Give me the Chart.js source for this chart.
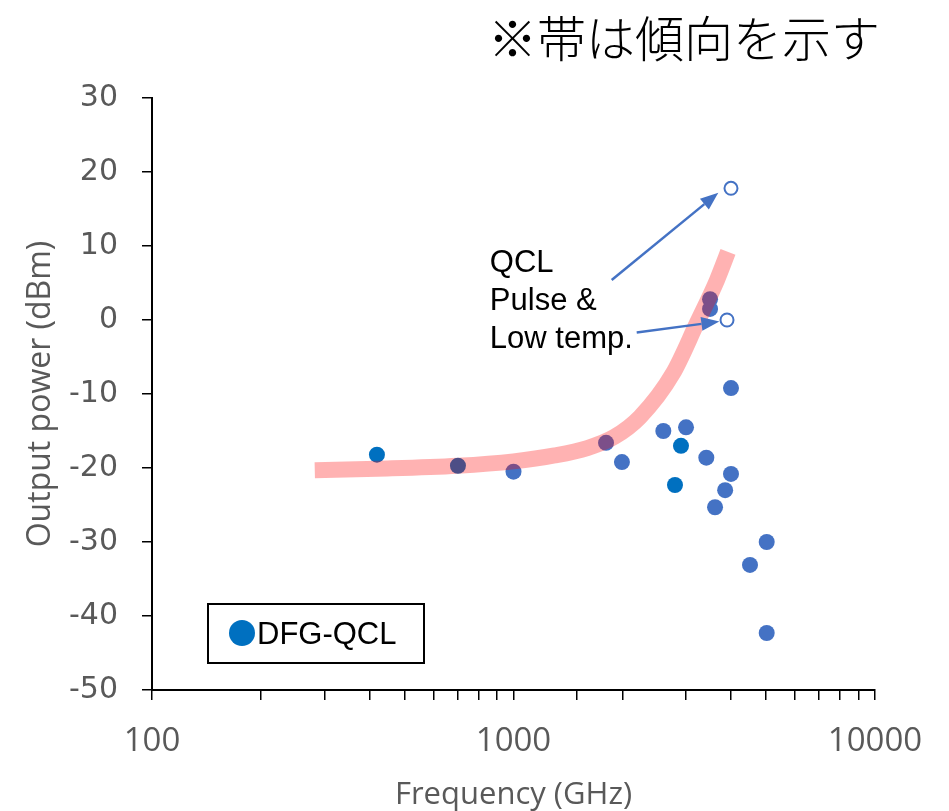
<!DOCTYPE html>
<html>
<head>
<meta charset="utf-8">
<script src="https://cdn.jsdelivr.net/npm/chart.js@4/dist/chart.umd.min.js"></script>
<style>
  body { margin: 0; background: #fff; }
  #wrap { width: 949px; height: 811px; }
</style>
</head>
<body>
<div id="wrap"><canvas id="grafico" width="949" height="811"></canvas></div>
<script>
// dados
const freqEscuro = [419, 702, 2797, 2906];
const potEscuro = [-18.2, -19.7, -22.3, -17.0];

const freqClaro = [1000, 1803, 1995, 2597, 3001, 3415, 3497, 3497, 3610, 3850, 3996, 3996, 4510, 5017, 5017];
const potClaro = [-20.5, -16.6, -19.2, -15.0, -14.5, -18.6, 2.8, 1.5, -25.3, -23.0, -9.2, -20.8, -33.1, -30.0, -42.3];

const freqAberto = [3996, 3896];
const potAberto = [17.8, 0];

// faixa de tendencia
const freqFaixa = [282, 420, 700, 1000, 1300, 1600, 1900, 2239, 2762, 3218, 3656, 3921];
const potFaixa = [-20.3, -20.1, -19.7, -19.1, -18.3, -17.3, -15.8, -13.1, -7.2, -0.4, 5.4, 9.2];

// setas: [freq inicio, pot inicio, freq fim, pot fim]
const setas = [
  [1869, 5.4, 3686, 17.2],
  [2192, -1.7, 3710, -0.2]
];

const textoNota = ['QCL', 'Pulse &', 'Low temp.'];
const notaPos = [860, 6.5];
const titulo = '※帯は傾向を示す';
const legenda = 'DFG-QCL';

const ticksY = [-50, -40, -30, -20, -10, 0, 10, 20, 30];
const ticksXLabel = [100, 1000, 10000];

const junta = (xs, ys) => xs.map((x, i) => ({ x: x, y: ys[i] }));

const extras = {
  id: 'extras',
  afterDatasetsDraw(chart) {
    const ctx = chart.ctx;
    const sx = chart.scales.x;
    const sy = chart.scales.y;
    const area = chart.chartArea;
    ctx.save();

    // setas
    ctx.strokeStyle = '#4472C4';
    ctx.fillStyle = '#4472C4';
    ctx.lineWidth = 2.5;
    setas.forEach(s => {
      const x1 = sx.getPixelForValue(s[0]), y1 = sy.getPixelForValue(s[1]);
      const x2 = sx.getPixelForValue(s[2]), y2 = sy.getPixelForValue(s[3]);
      const ang = Math.atan2(y2 - y1, x2 - x1);
      const tam = 18, larg = 7;
      const bx = x2 - tam * Math.cos(ang), by = y2 - tam * Math.sin(ang);
      ctx.beginPath();
      ctx.moveTo(x1, y1);
      ctx.lineTo(bx, by);
      ctx.stroke();
      ctx.beginPath();
      ctx.moveTo(x2, y2);
      ctx.lineTo(bx + larg * Math.sin(ang), by - larg * Math.cos(ang));
      ctx.lineTo(bx - larg * Math.sin(ang), by + larg * Math.cos(ang));
      ctx.closePath();
      ctx.fill();
    });

    // nota QCL
    ctx.fillStyle = '#000';
    ctx.font = '31px "Liberation Sans", Arial, sans-serif';
    ctx.textAlign = 'left';
    ctx.textBaseline = 'alphabetic';
    const nx = sx.getPixelForValue(notaPos[0]);
    const ny = sy.getPixelForValue(notaPos[1]);
    textoNota.forEach((t, i) => ctx.fillText(t, nx, ny + i * 38));

    // legenda
    const lx = area.left + 56, ly = area.bottom - 86;
    ctx.lineWidth = 2;
    ctx.strokeStyle = '#000';
    ctx.strokeRect(lx, ly, 216, 59);
    ctx.fillStyle = '#0070C0';
    ctx.beginPath();
    ctx.arc(lx + 34, ly + 29, 13, 0, Math.PI * 2);
    ctx.fill();
    ctx.fillStyle = '#000';
    ctx.font = '31px "Liberation Sans", Arial, sans-serif';
    ctx.textBaseline = 'middle';
    ctx.fillText(legenda, lx + 49, ly + 31);

    // titulo
    ctx.font = '300 49px "Noto Sans CJK JP", sans-serif';
    ctx.fillText(titulo, 488, 38);
    ctx.restore();
  }
};

const grafico = document.getElementById('grafico');
const graficoPotencia = new Chart(grafico, {
  type: 'scatter',
  data: {
    datasets: [{
      label: 'faixa',
      data: junta(freqFaixa, potFaixa),
      showLine: true,
      borderColor: 'rgba(255, 0, 0, 0.3)',
      borderWidth: 16,
      borderCapStyle: 'butt',
      cubicInterpolationMode: 'monotone',
      pointRadius: 0,
      order: 0
    }, {
      label: 'DFG-QCL',
      data: junta(freqEscuro, potEscuro),
      backgroundColor: '#0070C0',
      borderWidth: 0,
      pointRadius: 8,
      order: 1
    }, {
      label: 'DFG-QCL 2',
      data: junta(freqClaro, potClaro),
      backgroundColor: '#4472C4',
      borderWidth: 0,
      pointRadius: 8,
      order: 1
    }, {
      label: 'QCL',
      data: junta(freqAberto, potAberto),
      backgroundColor: '#fff',
      borderColor: '#4472C4',
      borderWidth: 2,
      pointRadius: 6.5,
      order: 1
    }]
  },
  options: {
    responsive: false,
    animation: false,
    layout: { padding: { top: 98, right: 74, left: 0, bottom: 0 } },
    plugins: {
      legend: { display: false },
      tooltip: { enabled: false }
    },
    scales: {
      x: {
        type: 'logarithmic',
        min: 100,
        max: 10000,
        border: { color: '#000', width: 2 },
        grid: { drawOnChartArea: false, color: '#000', lineWidth: 1.5, tickLength: 10 },
        ticks: {
          autoSkip: false,
          maxRotation: 0,
          color: '#595959',
          padding: 22,
          font: { family: '"Open Sans", sans-serif', size: 33 },
          callback: v => ticksXLabel.includes(v) ? String(v) : ''
        },
        title: {
          display: true,
          text: 'Frequency (GHz)',
          color: '#595959',
          font: { family: '"Open Sans", sans-serif', size: 31 },
          padding: { top: 0, bottom: -3 }
        },
        afterFit: s => { s.height = 121; }
      },
      y: {
        min: -50,
        max: 30,
        afterBuildTicks: s => { s.ticks = ticksY.map(v => ({ value: v })); },
        border: { color: '#000', width: 2 },
        grid: { drawOnChartArea: false, color: '#000', lineWidth: 1.5, tickLength: 10 },
        ticks: {
          color: '#595959',
          padding: 24,
          font: { family: '"DejaVu Sans", sans-serif', size: 30 }
        },
        title: {
          display: true,
          text: 'Output power (dBm)',
          color: '#595959',
          font: { family: '"Open Sans", sans-serif', size: 32 },
          padding: { top: 22, bottom: 0 }
        },
        afterFit: s => { s.width = 152; }
      }
    }
  },
  plugins: [extras]
});
</script>
</body>
</html>
